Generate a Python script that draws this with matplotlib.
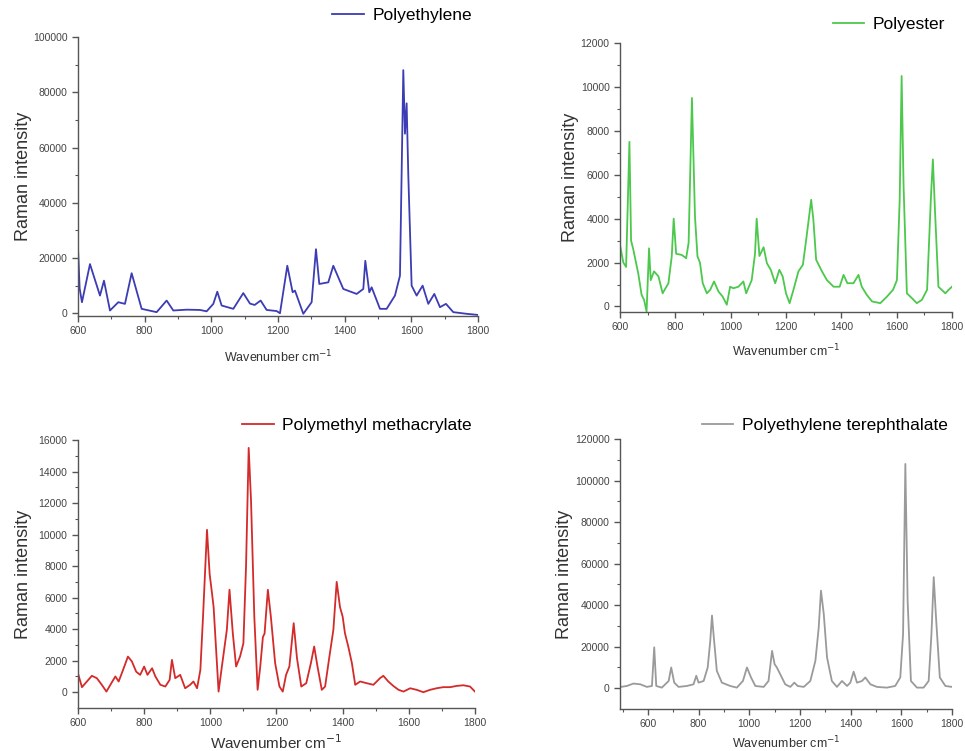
import numpy as np
import matplotlib
matplotlib.use("Agg")
import matplotlib.pyplot as plt

plt.rcParams['font.family'] = ['Liberation Sans', 'DejaVu Sans']

# Polyethylene (top left)
pe_x = [600, 605, 612, 636, 666, 678, 696, 721, 741, 761, 791, 836, 866, 886, 926, 966,
        986, 1006, 1018, 1031, 1066, 1096, 1116, 1130, 1148, 1166, 1196, 1206, 1228, 1244,
        1251, 1276, 1301, 1314, 1324, 1351, 1366, 1396, 1436, 1456, 1462, 1474, 1481, 1506,
        1526, 1551, 1566, 1576, 1581, 1586, 1591, 1601, 1616, 1634, 1651, 1669, 1686, 1704,
        1726, 1766, 1800]
pe_y = [24000, 9000, 4000, 17800, 6400, 11800, 1000, 4000, 3400, 14500, 1600, 400, 4600, 1000,
        1300, 1200, 700, 3400, 7800, 2800, 1600, 7300, 3500, 3000, 4600, 1200, 800, 0, 17200, 7600,
        8200, -200, 4000, 23200, 10600, 11200, 17200, 8800, 7000, 8800, 19000, 7600, 9400, 1600,
        1600, 6400, 13600, 88000, 65000, 76000, 50000, 10000, 6400, 10000, 3400, 7000, 2200, 3400,
        400, -200, -600]

# Polyester (top right)
pes_x = [600, 612, 622, 634, 640, 648, 666, 678, 687, 696, 705, 711, 723, 739, 754, 775, 787,
         794, 803, 823, 839, 848, 860, 871, 880, 889, 899, 914, 926, 940, 956, 971, 986, 998,
         1010, 1028, 1046, 1056, 1076, 1088, 1094, 1104, 1119, 1131, 1145, 1161, 1176, 1188,
         1200, 1213, 1227, 1245, 1261, 1273, 1291, 1299, 1309, 1330, 1348, 1372, 1394, 1408,
         1422, 1444, 1462, 1474, 1492, 1511, 1541, 1565, 1587, 1601, 1611, 1618, 1625, 1637,
         1655, 1673, 1691, 1710, 1724, 1731, 1739, 1751, 1776, 1788, 1800]
pes_y = [2800, 2000, 1800, 7500, 3000, 2600, 1500, 530, 300, -230, 2650, 1200, 1600, 1370, 600,
         1060, 2280, 4000, 2400, 2350, 2200, 2900, 9500, 4100, 2280, 2000, 1060, 600, 760, 1140,
         680, 450, 80, 900, 830, 900, 1140, 600, 1200, 2400, 4000, 2300, 2700, 1970, 1670, 1060,
         1670, 1370, 600, 150, 760, 1600, 1900, 3040, 4860, 3950, 2130, 1600, 1200, 900, 900,
         1440, 1060, 1060, 1440, 900, 530, 230, 150, 450, 760, 1200, 4860, 10500, 5500, 600, 380,
         150, 300, 760, 5000, 6700, 4250, 900, 600, 760, 900]

# Polymethyl methacrylate (bottom left)
pmma_x = [600, 612, 627, 642, 657, 672, 686, 698, 713, 723, 736, 751, 763, 776, 788, 800, 810,
          824, 834, 849, 864, 877, 884, 894, 909, 924, 939, 949, 960, 970, 978, 990, 998, 1005,
          1010, 1025, 1035, 1050, 1058, 1068, 1078, 1090, 1100, 1108, 1116, 1123, 1133, 1143,
          1151, 1159, 1164, 1174, 1183, 1196, 1209, 1219, 1229, 1239, 1252, 1262, 1275, 1290,
          1304, 1314, 1324, 1337, 1347, 1360, 1372, 1382, 1392, 1400, 1407, 1417, 1428, 1438,
          1453, 1473, 1493, 1513, 1523, 1538, 1553, 1569, 1584, 1604, 1624, 1644, 1664, 1684,
          1704, 1725, 1745, 1765, 1785, 1800]
pmma_y = [1200, 320, 680, 1040, 890, 470, 40, 470, 1000, 680, 1400, 2260, 1950, 1300, 1100, 1630,
          1100, 1520, 1000, 470, 360, 780, 2050, 890, 1100, 250, 470, 680, 250, 1420, 4800, 10300,
          7500, 6300, 5400, 40, 1630, 3960, 6500, 3740, 1630, 2270, 3100, 7990, 15500, 12200, 4800,
          150, 1630, 3500, 3720, 6500, 4800, 1840, 360, 40, 1100, 1630, 4380, 2160, 360, 570, 1840,
          2900, 1630, 150, 360, 2260, 3960, 7000, 5400, 4800, 3740, 2900, 1840, 470, 680, 570, 470,
          890, 1040, 680, 400, 150, 40, 250, 150, 0, 150, 250, 320, 320, 400, 440, 360, 40]

# Polyethylene terephthalate (bottom right)
pet_x = [491, 517, 543, 570, 596, 616, 625, 633, 655, 682, 692, 704, 721, 754, 780, 791, 800,
         820, 836, 846, 853, 859, 872, 892, 925, 951, 975, 991, 1007, 1024, 1057, 1076, 1090,
         1100, 1109, 1122, 1142, 1162, 1178, 1191, 1215, 1241, 1261, 1274, 1283, 1294, 1307,
         1326, 1346, 1366, 1386, 1399, 1412, 1425, 1445, 1458, 1478, 1504, 1543, 1576, 1596,
         1607, 1616, 1625, 1638, 1662, 1688, 1708, 1719, 1728, 1737, 1752, 1774, 1800]
pet_y = [600, 1100, 2260, 1900, 650, 1100, 19700, 1100, 300, 3500, 10000, 2700, 650, 1100, 1900,
         6000, 2700, 3500, 10000, 22600, 35000, 26100, 8400, 2700, 1100, 300, 3500, 10000, 5200,
         1100, 650, 3500, 18000, 11600, 10000, 6800, 1900, 650, 2700, 1100, 650, 3500, 13200,
         29000, 47000, 35800, 14800, 3500, 650, 3500, 1100, 2700, 8000, 2700, 3500, 5200, 1900,
         650, 300, 1100, 5200, 26100, 108000, 42000, 3500, 300, 300, 3500, 26100, 53500, 34200,
         5200, 1100, 650]

fig = plt.figure(figsize=(9.65, 7.51), dpi=100)


def style_axes(ax, xlim, ylim, xticks, yticks, xl_size, xl_pad, yl_pad):
    ax.set_xlim(*xlim)
    ax.set_ylim(*ylim)
    ax.set_xticks(xticks)
    ax.set_yticks(yticks)
    ax.set_xticks([t + (xticks[1] - xticks[0]) / 2 for t in xticks[:-1]], minor=True)
    ax.set_yticks([t + (yticks[1] - yticks[0]) / 2 for t in yticks[:-1]], minor=True)
    for s in ['top', 'right']:
        ax.spines[s].set_visible(False)
    for s in ['left', 'bottom']:
        ax.spines[s].set_color('#555555')
        ax.spines[s].set_linewidth(1.0)
    ax.tick_params(which='major', direction='out', length=4, width=1, colors='#555555',
                   labelsize=7.5, labelcolor='#444444')
    ax.tick_params(which='minor', direction='out', length=2.5, width=0.8, colors='#555555')
    ax.set_ylabel('Raman intensity', fontsize=13, color='#333333', labelpad=yl_pad)
    ax.set_xlabel('Wavenumber cm$^{-1}$', fontsize=xl_size, color='#333333', labelpad=xl_pad)


def add_legend(ax, x_px, y_px):
    ax.legend(loc='center right', bbox_to_anchor=(x_px / 965, 1 - y_px / 751),
              bbox_transform=fig.transFigure, frameon=False, borderpad=0, borderaxespad=0,
              handlelength=1.8, handletextpad=0.5, fontsize=12.5)


xt = [600, 800, 1000, 1200, 1400, 1600, 1800]

# top left
ax1 = fig.add_axes([0.0808, 0.5792, 0.4145, 0.3715])
ax1.plot(pe_x, pe_y, color='#3c3cb4', lw=1.3, label='Polyethylene')
style_axes(ax1, (600, 1800), (-1000, 100000), xt, [0, 20000, 40000, 60000, 80000, 100000],
           9, 9, 1)
add_legend(ax1, 472, 15)

# top right
ax2 = fig.add_axes([0.6425, 0.5846, 0.344, 0.358])
ax2.plot(pes_x, pes_y, color='#4cc84c', lw=1.3, label='Polyester')
style_axes(ax2, (600, 1800), (-250, 12000), xt, [0, 2000, 4000, 6000, 8000, 10000, 12000],
           9, 7.5, 1)
add_legend(ax2, 945, 24)

# bottom left
ax3 = fig.add_axes([0.0808, 0.0573, 0.4114, 0.3568])
ax3.plot(pmma_x, pmma_y, color='#d42a2a', lw=1.3, label='Polymethyl methacrylate')
style_axes(ax3, (600, 1800), (-1000, 16000), xt,
           [0, 2000, 4000, 6000, 8000, 10000, 12000, 14000, 16000], 11, 3.5, 5)
add_legend(ax3, 472, 425)

# bottom right
ax4 = fig.add_axes([0.6425, 0.0559, 0.344, 0.3595])
ax4.plot(pet_x, pet_y, color='#9a9a9a', lw=1.3, label='Polyethylene terephthalate')
style_axes(ax4, (490, 1800), (-10000, 120000), xt,
           [0, 20000, 40000, 60000, 80000, 100000, 120000], 9, 4, 1)
ax4.set_xticks([500, 700, 900, 1100, 1300, 1500, 1700], minor=True)
add_legend(ax4, 948, 425)

fig.savefig('out.png', dpi=100)
